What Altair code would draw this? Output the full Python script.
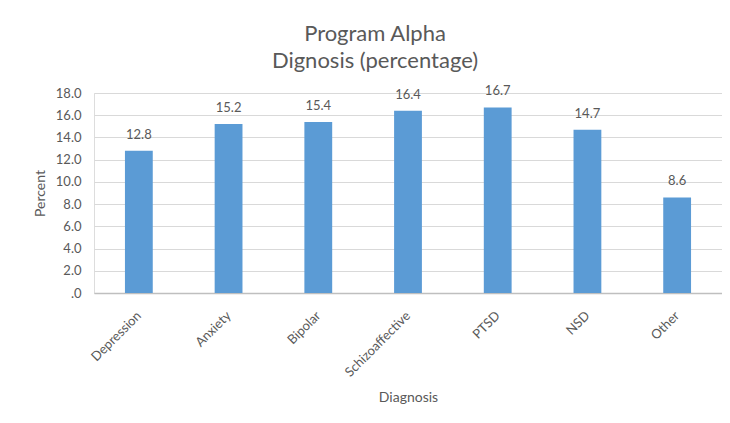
import altair as alt
import pandas as pd

categories = ["Depression", "Anxiety", "Bipolar", "Schizoaffective", "PTSD", "NSD", "Other"]
values = [12.8, 15.2, 15.4, 16.4, 16.7, 14.7, 8.6]
y_ticks = [0, 2, 4, 6, 8, 10, 12, 14, 16, 18]

df = pd.DataFrame({"Diagnosis": categories, "Percent": values})

FONT = "Lato"
TXT = "#595959"

base = alt.Chart(df).encode(
    x=alt.X("Diagnosis:N", sort=categories,
            scale=alt.Scale(paddingInner=0.69, paddingOuter=0.345),
            axis=alt.Axis(title="Diagnosis", labelAngle=-45, labelFontSize=13,
                          labelColor=TXT, titleColor=TXT, titleFontSize=14,
                          titleFontWeight="normal", labelFont=FONT, titleFont=FONT,
                          ticks=False, domainColor="#bfbfbf", domainWidth=1.5,
                          labelPadding=16, labelOffset=-4, titlePadding=12, grid=False)),
    y=alt.Y("Percent:Q", scale=alt.Scale(domain=[0, 18]),
            axis=alt.Axis(title="Percent", values=y_ticks,
                          labelExpr="datum.value == 0 ? '.0' : format(datum.value, '.1f')",
                          labelFontSize=13, labelColor=TXT, titleColor=TXT,
                          titleFontSize=14, titleFontWeight="normal",
                          labelFont=FONT, titleFont=FONT, ticks=False, domain=False,
                          gridColor="#d9d9d9", gridWidth=1, labelPadding=13,
                          titlePadding=8)),
)

bars = base.mark_bar(color="#5b9bd5")
labels = base.mark_text(dy=-16, fontSize=13, color=TXT, font=FONT).encode(
    text=alt.Text("Percent:Q", format=".1f"))

chart = (bars + labels).properties(
    width=628, height=200,
    title=alt.TitleParams(["Program Alpha", "Dignosis (percentage)"], fontSize=22,
                          font=FONT, color=TXT, fontWeight="normal", lineHeight=27,
                          anchor="middle", dx=-33, offset=12),
    autosize=alt.AutoSizeParams(type="none"),
    padding={"left": 86, "top": 85, "right": 0, "bottom": 122},
).configure_view(strokeWidth=0).configure(background="white")

chart.save("out.html", embed_options={"renderer": "svg", "actions": False})
